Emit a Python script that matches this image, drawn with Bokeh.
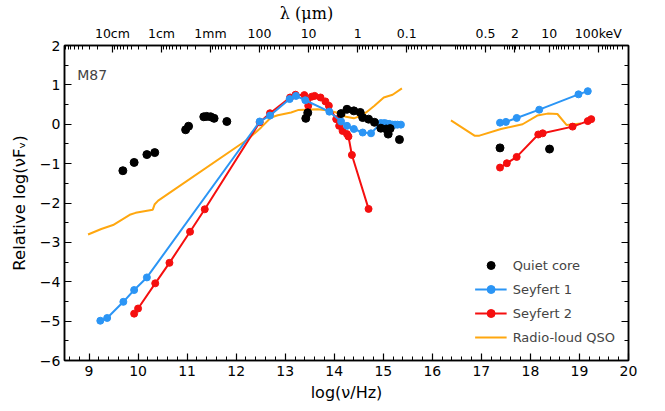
import numpy as np
from bokeh.plotting import figure
from bokeh.models import (LinearAxis, FixedTicker, SingleIntervalTicker, Label, Range1d)
from bokeh.embed import file_html
from bokeh.resources import INLINE

nan = float("nan")

# ---------------- data ----------------
quiet_x = [9.69, 9.92, 10.18, 10.34, 10.97, 11.03, 11.34, 11.40, 11.48, 11.55, 11.81,
           13.42, 13.46, 14.14, 14.26, 14.40, 14.53, 14.58, 14.70, 14.82, 14.95, 15.06,
           15.10, 15.14, 15.33, 17.38, 18.39]
quiet_y = [-1.18, -0.97, -0.77, -0.72, -0.14, -0.05, 0.19, 0.20, 0.19, 0.15, 0.07,
           0.15, 0.29, 0.27, 0.38, 0.34, 0.30, 0.17, 0.13, 0.05, -0.10, -0.12,
           -0.25, -0.11, -0.39, -0.60, -0.63]

sy1_x = [9.23, 9.37, 9.70, 9.92, 10.18, 12.48, 12.69, 13.09, 13.22, 13.41, 13.90, 14.14,
         14.26, 14.40, 14.58, 14.75, 14.95, 15.02, 15.06, 15.12, 15.19, 15.24, 15.29, 15.36,
         nan, 17.38, 17.50, 17.72, 18.18, 18.98, 19.17]
sy1_y = [-4.99, -4.92, -4.51, -4.21, -3.89, 0.07, 0.22, 0.64, 0.72, 0.61, 0.32, 0.07,
         -0.04, -0.12, -0.21, -0.23, 0.03, 0.03, 0.02, 0.01, -0.01, -0.01, -0.01, -0.01,
         nan, 0.04, 0.06, 0.16, 0.37, 0.76, 0.84]

sy2_x = [9.92, 10.00, 10.35, 10.64, 11.06, 11.36, 12.48, 12.69, 13.10, 13.21, 13.39, 13.47,
         13.54, 13.60, 13.72, 13.82, 13.89, 14.04, 14.10, 14.17, 14.26, 14.29, 14.36, 14.70,
         nan, 17.38, 17.52, 17.72, 18.16, 18.25, 18.86, 19.17, 19.24]
sy2_y = [-4.81, -4.68, -4.04, -3.52, -2.73, -2.16, 0.05, 0.28, 0.68, 0.75, 0.74, 0.47,
         0.70, 0.72, 0.68, 0.58, 0.47, 0.13, -0.04, -0.17, -0.25, -0.31, -0.78, -2.15,
         nan, -1.10, -0.99, -0.83, -0.26, -0.23, -0.06, 0.08, 0.13]

qso_x = [8.98, 9.25, 9.49, 9.83, 9.95, 10.30, 10.34, 10.41, 12.24, 12.51, 12.71, 12.85,
         13.12, 13.26, 13.66, 13.93, 14.04, 14.24, 14.40, 14.51, 14.65, 14.82, 15.01, 15.19,
         15.38, nan, 16.38, 16.86, 16.96, 17.40, 17.84, 18.14, 18.35, 18.55, 18.74, 19.03]
qso_y = [-2.80, -2.66, -2.56, -2.30, -2.25, -2.17, -2.03, -1.94, -0.38, -0.08, 0.17, 0.23,
         0.30, 0.36, 0.38, 0.34, 0.30, 0.19, 0.15, 0.20, 0.30, 0.47, 0.68, 0.75,
         0.91, nan, 0.10, -0.29, -0.29, -0.12, 0.00, 0.22, 0.27, 0.26, -0.02, 0.02]

# top axis: wavelength decades (log nu positions) and X-ray energies
top_labels = ["10cm", "1cm", "1mm", "100", "10", "1", "0.1", "0.5", "2", "10", "100keV"]
top_pos = [9.477, 10.477, 11.477, 12.477, 13.477, 14.477, 15.477,
           17.083, 17.685, 18.384, 19.384]

y_ticks = [-6, -5, -4, -3, -2, -1, 0, 1, 2]

# ---------------- figure ----------------
FONT = "DejaVu Sans"
p = figure(frame_width=564, frame_height=315, x_range=Range1d(8.5, 20), y_range=Range1d(-6, 2),
           output_backend="svg", toolbar_location=None,
           min_border_left=52, min_border_right=26, min_border_top=36, min_border_bottom=44,
           x_axis_label="log(ν/Hz)", y_axis_label="Relative log(νFᵥ)")
p.margin = (0, 0, 0, 6)
p.grid.visible = False
p.outline_line_color = "black"
p.outline_line_width = 1.5
p.background_fill_color = "white"
p.border_fill_color = "white"

def style_axis(ax):
    ax.axis_line_width = 1.5
    ax.axis_line_color = "black"
    ax.major_tick_in = 7
    ax.major_tick_out = 0
    ax.minor_tick_in = 4
    ax.minor_tick_out = 0
    ax.major_tick_line_width = 1.2
    ax.minor_tick_line_width = 1
    ax.major_label_text_font = FONT
    ax.major_label_text_font_size = "14px"
    ax.major_label_text_color = "black"
    ax.axis_label_text_font = FONT
    ax.axis_label_text_font_size = "16px"
    ax.axis_label_text_font_style = "normal"
    ax.axis_label_text_color = "black"

xa = p.xaxis[0]
xa.ticker = SingleIntervalTicker(interval=1, num_minor_ticks=5)
style_axis(xa)
xa.major_label_standoff = 5
xa.axis_label_standoff = 4

ya = p.yaxis[0]
ya.ticker = SingleIntervalTicker(interval=1, num_minor_ticks=2)
style_axis(ya)
ya.major_label_standoff = 4
ya.axis_label_standoff = 8
ya.axis_label_text_font_size = "16.5px"
ya.major_label_overrides = {t: ("−" + str(-t) if t < 0 else str(t)) for t in y_ticks}

# right axis (ticks only, labels not drawn)
ra = LinearAxis(ticker=SingleIntervalTicker(interval=1, num_minor_ticks=2))
style_axis(ra)
ra.major_label_text_color = None
ra.major_label_standoff = 0
p.add_layout(ra, "right")

# top axis (wavelength / energy ticks)
minors = []
for n in range(-1, 11):
    d = 9.477 + n
    for k in range(2, 10):
        minors.append(round(d + 1 - np.log10(k), 4))
    if n >= 7:
        minors.append(round(d, 4))
minors = [m for m in minors if 8.5 <= m <= 20]
ta = LinearAxis(ticker=FixedTicker(ticks=top_pos, minor_ticks=minors),
                axis_label="λ (μm)" + "\u2003" * 5)
style_axis(ta)
ta.major_label_overrides = {pos: lab for pos, lab in zip(top_pos, top_labels)}
ta.major_label_text_font_size = "12.5px"
ta.major_label_standoff = 5
ta.axis_label_standoff = 0
ta.axis_label_text_font = "DejaVu Serif"
ta.axis_label_text_font_size = "16px"
p.add_layout(ta, "above")

# ---------------- data glyphs ----------------
BLUE = "#2B95F5"
RED = "#F50F0F"
ORANGE = "#FFA70F"

p.line(qso_x, qso_y, line_color=ORANGE, line_width=2, legend_label="Radio-loud QSO")
p.line(sy2_x, sy2_y, line_color=RED, line_width=2, legend_label="Seyfert 2")
p.scatter(sy2_x, sy2_y, size=7, fill_color=RED, line_color=RED, legend_label="Seyfert 2")
p.line(sy1_x, sy1_y, line_color=BLUE, line_width=2, legend_label="Seyfert 1")
p.scatter(sy1_x, sy1_y, size=7, fill_color=BLUE, line_color=BLUE, legend_label="Seyfert 1")
p.scatter(quiet_x, quiet_y, size=8, fill_color="black", line_color="black", legend_label="Quiet core")

# reorder legend items
leg = p.legend[0]
order = ["Quiet core", "Seyfert 1", "Seyfert 2", "Radio-loud QSO"]
items = {it.label.value: it for it in leg.items}
leg.items = [items[o] for o in order]
leg.location = "bottom_right"
leg.border_line_alpha = 0
leg.background_fill_alpha = 0
leg.label_text_font = FONT
leg.label_text_font_size = "13px"
leg.glyph_width = 32
leg.glyph_height = 20
leg.label_height = 20
leg.label_standoff = 6
leg.spacing = 4
leg.padding = 5
leg.margin = 8

# ---------------- text labels ----------------
p.add_layout(Label(x=8.76, y=1.26, text="M87", text_font=FONT, text_font_size="14px",
                   text_baseline="middle", text_align="left"))

open("out.html", "w").write(file_html(p, INLINE))
